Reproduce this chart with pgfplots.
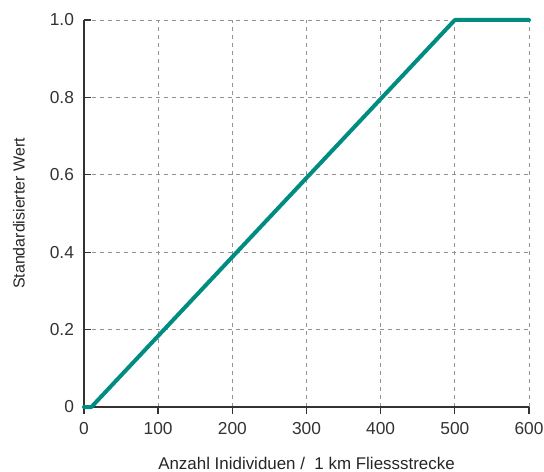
\documentclass[border=0pt]{standalone}
\usepackage{pgfplots}
\pgfplotsset{compat=1.18}
\usepackage{fontspec}
\setmainfont{Liberation Sans}
\definecolor{teal1}{RGB}{0,140,128}
\begin{document}
\begin{tikzpicture}
\begin{axis}[
  name=ax,
  at={(0,0)}, anchor=south west,
  scale only axis,
  width=333.75pt, height=290.25pt,
  xmin=0, xmax=600, ymin=0, ymax=1,
  axis x line*=bottom, axis y line*=left,
  axis line style={line width=1.4pt, black!80},
  xtick={0,100,...,600},
  ytick={0,0.2,0.4,0.6,0.8,1.0},
  yticklabels={0,0.2,0.4,0.6,0.8,1.0},
  grid=major,
  major grid style={dashed, gray!85, line width=0.6pt},
  tick style={black!80, line width=1pt},
  major tick length=5pt,
  xtick align=outside, ytick align=inside,
  /pgf/number format/assume math mode=true,
  tick label style={font=\fontsize{13}{15}\selectfont, text=black!80},
  yticklabel style={xshift=-4pt},
  xticklabel style={yshift=-3pt},
  xlabel style={font=\fontsize{12.7}{14}\selectfont, text=black!85, yshift=-10pt},
  ylabel style={font=\fontsize{12}{14}\selectfont, text=black!85, yshift=12pt},
  xlabel={Anzahl Inidividuen /\ \ 1 km Fliessstrecke},
  ylabel={Standardisierter Wert},
  clip=false,
]
\addplot[teal1, line width=3pt, line join=round, line cap=round] coordinates {(0,0) (10,0) (500,1) (600,1)};
\end{axis}
\pgfresetboundingbox
\useasboundingbox (-63pt,-48.75pt) rectangle (345pt,305.25pt);
\end{tikzpicture}
\end{document}
